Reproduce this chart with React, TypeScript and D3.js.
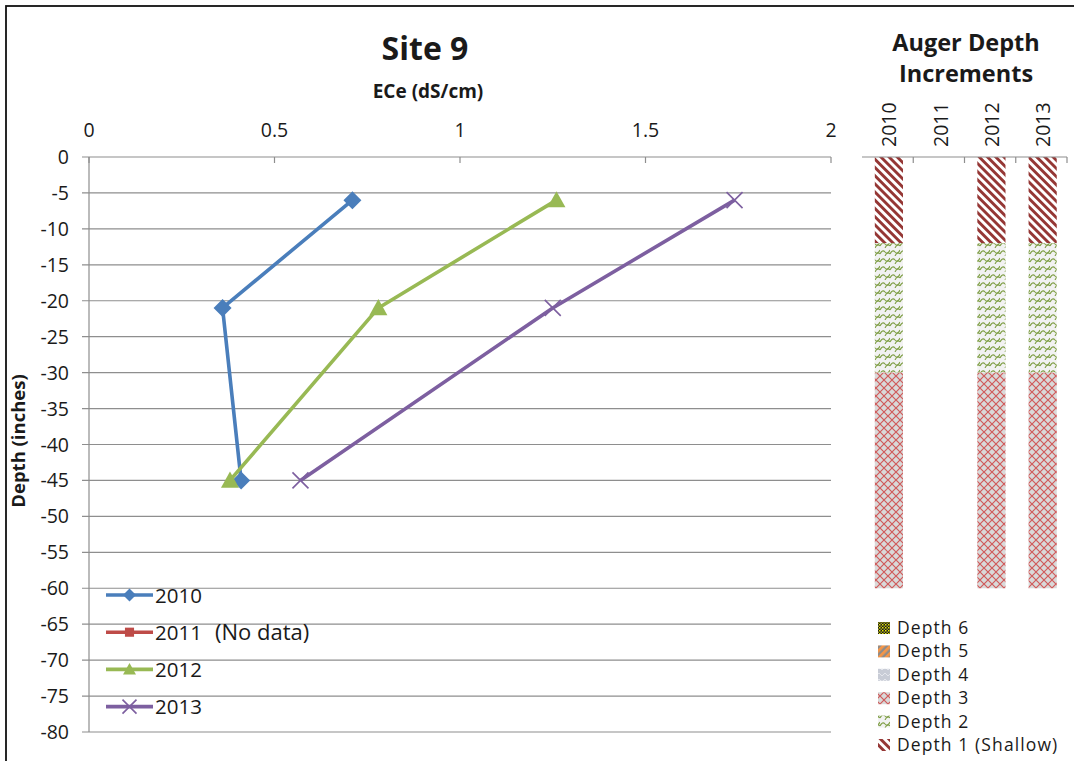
import React from "react";
import * as d3 from "d3";

const seriesNames = ["2010", "2011", "2012", "2013"];
const seriesColors = ["#4a7ebb", "#be4b48", "#98b954", "#7d5fa0"];
const seriesMarkers = ["diamond", "square", "triangle", "x"];
const depthPoints = [-6, -21, -45];
const ece2010 = [0.71, 0.36, 0.41];
const ece2011: number[] = [];
const ece2012 = [1.26, 0.78, 0.38];
const ece2013 = [1.74, 1.25, 0.57];
const xTicks = [0, 0.5, 1, 1.5, 2];
const yTicks = d3.range(0, -81, -5);

const augerYears = ["2010", "2011", "2012", "2013"];
const depthKeys = ["d1", "d2", "d3", "d4", "d5", "d6"];
const depth1 = [12, 0, 12, 12];
const depth2 = [18, 0, 18, 18];
const depth3 = [30, 0, 30, 30];
const depth4 = [0, 0, 0, 0];
const depth5 = [0, 0, 0, 0];
const depth6 = [0, 0, 0, 0];
const depthLegend = ["Depth 6", "Depth 5", "Depth 4", "Depth 3", "Depth 2", "Depth 1 (Shallow)"];
const depthLegendKeys = ["d6", "d5", "d4", "d3", "d2", "d1"];

const FONT = "'Open Sans', Lato, sans-serif";
const TXT = "#1a1a1a";

function Marker({ type, x, y, color, s }: { type: string; x: number; y: number; color: string; s: number }) {
  if (type === "diamond")
    return <path d={`M${x},${y - s}L${x + s},${y}L${x},${y + s}L${x - s},${y}Z`} fill={color} />;
  if (type === "square") return <rect x={x - s * 0.7} y={y - s * 0.7} width={s * 1.4} height={s * 1.4} fill={color} />;
  if (type === "triangle")
    return <path d={`M${x},${y - s}L${x + s},${y + s * 0.8}L${x - s},${y + s * 0.8}Z`} fill={color} />;
  return (
    <path
      d={`M${x - s},${y - s}L${x + s},${y + s}M${x + s},${y - s}L${x - s},${y + s}`}
      stroke={color}
      strokeWidth={1.6}
      fill="none"
    />
  );
}

export default function App() {
  const x = d3.scaleLinear().domain([0, 2]).range([89, 831]);
  const y = d3.scaleLinear().domain([0, -80]).range([157, 732]);
  const seriesVals = [ece2010, ece2011, ece2012, ece2013];
  const line = d3
    .line<[number, number]>()
    .x((d) => x(d[0]))
    .y((d) => y(d[1]));

  // auger panel
  const band = d3.scaleBand<string>().domain(augerYears).range([862, 1067]).padding(0);
  const step = band.step();
  const barX = (yr: string) => (band(yr) || 0) + step * 0.25;
  const barW = step * 0.55;
  const rows = augerYears.map((yr, i) => ({
    year: yr,
    d1: depth1[i],
    d2: depth2[i],
    d3: depth3[i],
    d4: depth4[i],
    d5: depth5[i],
    d6: depth6[i],
  }));
  const stacked = d3.stack<any>().keys(depthKeys)(rows);
  const depthY = (v: number) => y(-v);

  return (
    <div style={{ position: "absolute", left: 0, top: 0 }}>
      <svg width={1074} height={761} style={{ display: "block", fontFamily: FONT }}>
        <defs>
          <pattern id="p-d1" width={5.8} height={5.8} patternUnits="userSpaceOnUse" patternTransform="rotate(-45)">
            <rect width={5.8} height={5.8} fill="#ffffff" />
            <rect width={2.9} height={5.8} fill="#953735" />
          </pattern>
          <pattern id="p-d2" width={10} height={8} patternUnits="userSpaceOnUse">
            <rect width={10} height={8} fill="#f2f2f2" />
            <path d="M0,6 Q2.5,1 5,4 T10,2" stroke="#7f9f45" strokeWidth={1.1} fill="none" />
            <path d="M-5,2 Q-2.5,-3 0,0 M5,8 Q7.5,3 10,6" stroke="#7f9f45" strokeWidth={1.1} fill="none" />
          </pattern>
          <pattern id="p-d3" width={8} height={8} patternUnits="userSpaceOnUse">
            <rect width={8} height={8} fill="#d9d9d9" />
            <path d="M0,0L8,8M8,0L0,8" stroke="#d05a5a" strokeWidth={1.2} fill="none" />
          </pattern>
          <pattern id="p-d4" width={6} height={6} patternUnits="userSpaceOnUse">
            <rect width={6} height={6} fill="#c8ccd6" />
            <path d="M0,4L3,1L6,4" stroke="#e4e6ec" strokeWidth={1} fill="none" />
          </pattern>
          <pattern id="p-d5" width={5} height={5} patternUnits="userSpaceOnUse" patternTransform="rotate(45)">
            <rect width={5} height={5} fill="#8c8c8c" />
            <rect width={2.7} height={5} fill="#f79646" />
          </pattern>
          <pattern id="p-d6" width={3} height={3} patternUnits="userSpaceOnUse">
            <rect width={3} height={3} fill="#1a1a1a" />
            <rect width={1.5} height={1.5} fill="#e6e600" />
            <rect x={1.5} y={1.5} width={1.5} height={1.5} fill="#9a9a20" />
          </pattern>
        </defs>

        <rect x={0} y={0} width={1074} height={761} fill="#ffffff" />
        <rect x={6} y={6} width={1200} height={900} fill="none" stroke="#111" strokeWidth={1.8} />

        {/* titles */}
        <text x={425} y={60} textAnchor="middle" fontSize={32} fontWeight={700} fill={TXT}>
          Site 9
        </text>
        <text x={428} y={98} textAnchor="middle" fontSize={19} fontWeight={700} fill={TXT}>
          ECe (dS/cm)
        </text>
        <text
          transform={`translate(25,${441}) rotate(-90)`}
          textAnchor="middle"
          fontSize={18.5}
          fontWeight={700}
          fill={TXT}
        >
          Depth (inches)
        </text>

        {/* grid */}
        {yTicks.map((t) => (
          <line key={"g" + t} x1={82} x2={831} y1={y(t)} y2={y(t)} stroke="#8e8e8e" strokeWidth={1.2} />
        ))}
        <line x1={89} x2={89} y1={157} y2={732} stroke="#8e8e8e" strokeWidth={1.2} />
        {xTicks.map((t) => (
          <line key={"xt" + t} x1={x(t)} x2={x(t)} y1={157} y2={163} stroke="#8e8e8e" strokeWidth={1.2} />
        ))}
        {xTicks.map((t) => (
          <text key={"xl" + t} x={x(t)} y={137} textAnchor="middle" fontSize={19.5} fill={TXT}>
            {String(t)}
          </text>
        ))}
        {yTicks.map((t) => (
          <text key={"yl" + t} x={69} y={y(t) + 7} textAnchor="end" fontSize={19.5} fill={TXT}>
            {String(t)}
          </text>
        ))}

        {/* series */}
        {seriesVals.map((vals, si) => {
          const pts: [number, number][] = vals.map((v, i) => [v, depthPoints[i]]);
          if (!pts.length) return null;
          return (
            <g key={"s" + si}>
              <path d={line(pts) || ""} fill="none" stroke={seriesColors[si]} strokeWidth={3.6} strokeLinejoin="round" />
              {pts.map((p, i) => (
                <Marker key={i} type={seriesMarkers[si]} x={x(p[0])} y={y(p[1])} color={seriesColors[si]} s={seriesMarkers[si] === "x" ? 8 : 9} />
              ))}
            </g>
          );
        })}

        {/* left legend */}
        {seriesNames.map((n, i) => {
          const ly = 595 + i * 37.2;
          return (
            <g key={"lg" + n}>
              <line x1={106} x2={153} y1={ly} y2={ly} stroke={seriesColors[i]} strokeWidth={3.6} />
              <Marker type={seriesMarkers[i]} x={129.5} y={ly} color={seriesColors[i]} s={seriesMarkers[i] === "x" ? 7 : 6.5} />
              <text x={155} y={ly + 7.5} fontSize={20.5} fill={TXT}>
                {n}
              </text>
              {n === "2011" && (
                <text x={215} y={ly + 7.5} fontSize={22} fill={TXT}>
                  (No data)
                </text>
              )}
            </g>
          );
        })}

        {/* auger panel */}
        <text x={966} y={51} textAnchor="middle" fontSize={23.5} fontWeight={700} fill={TXT}>
          Auger Depth
        </text>
        <text x={966} y={82} textAnchor="middle" fontSize={23.5} fontWeight={700} fill={TXT}>
          Increments
        </text>
        {augerYears.map((yr) => (
          <text
            key={"ay" + yr}
            transform={`translate(${barX(yr) + barW / 2},147) rotate(-90)`}
            textAnchor="start"
            dominantBaseline="central"
            fontSize={19.5}
            fill={TXT}
          >
            {yr}
          </text>
        ))}
        {stacked.map((layer) => (
          <g key={layer.key} fill={`url(#p-${layer.key})`}>
            {layer.map((d: any, i: number) =>
              d[1] - d[0] > 0 ? (
                <rect
                  key={i}
                  x={barX(augerYears[i])}
                  y={depthY(d[0])}
                  width={barW}
                  height={depthY(d[1]) - depthY(d[0])}
                />
              ) : null
            )}
          </g>
        ))}
        <line x1={862} x2={1067} y1={157} y2={157} stroke="#8e8e8e" strokeWidth={1.2} />
        {augerYears.map((yr) => {
          const tx = (band(yr) || 0) + step;
          return <line key={"at" + yr} x1={tx} x2={tx} y1={157} y2={163} stroke="#8e8e8e" strokeWidth={1.2} />;
        })}

        {/* depth legend */}
        {depthLegend.map((n, i) => {
          const ly = 628 + i * 23.4;
          return (
            <g key={"dl" + n}>
              <rect x={878} y={ly - 6} width={12} height={12} fill={`url(#p-${depthLegendKeys[i]})`} />
              <text x={897} y={ly + 6} fontSize={17.5} letterSpacing={1.1} fill={TXT}>
                {n}
              </text>
            </g>
          );
        })}
      </svg>
    </div>
  );
}
